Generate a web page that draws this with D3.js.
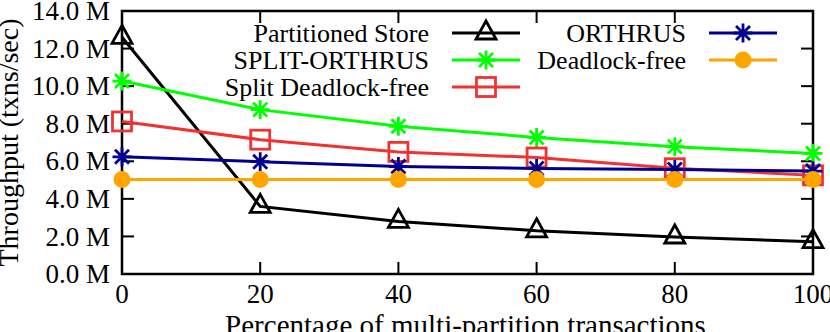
<!DOCTYPE html>
<html>
<head>
<meta charset="utf-8">
<script src="https://cdn.jsdelivr.net/npm/d3@7"></script>
<style>
  html, body { margin: 0; padding: 0; background: #fff; }
  svg text { font-family: "Liberation Serif", "DejaVu Serif", serif; fill: #000; }
</style>
</head>
<body>
<svg id="chart" width="830" height="332"></svg>
<script>
// values (throughput in millions of txns/sec)
const xPct = [0, 20, 40, 60, 80, 100];
const partitionedStore = [12.6, 3.6, 2.8, 2.3, 1.97, 1.72];
const splitOrthrus = [10.27, 8.75, 7.86, 7.27, 6.78, 6.42];
const splitDeadlockFree = [8.12, 7.15, 6.5, 6.2, 5.63, 5.25];
const orthrus = [6.24, 5.98, 5.72, 5.62, 5.56, 5.48];
const deadlockFree = [5.03, 5.03, 5.03, 5.03, 5.03, 5.03];

const yTicks = [0, 2, 4, 6, 8, 10, 12, 14];
const xTicks = [0, 20, 40, 60, 80, 100];

const seriesNames = ['Partitioned Store', 'SPLIT-ORTHRUS', 'Split Deadlock-free', 'ORTHRUS', 'Deadlock-free'];
const seriesColors = ['#000000', '#00ff00', '#f03232', '#000090', '#ffa500'];
const seriesMarkers = ['triangle', 'star', 'square', 'star', 'circle'];
const seriesValues = [partitionedStore, splitOrthrus, splitDeadlockFree, orthrus, deadlockFree];

const svg = d3.select('#chart');
const W = 830, H = 332;
const margin = { left: 122, right: 17, top: 11, bottom: 58 };
const iw = W - margin.left - margin.right;
const ih = H - margin.top - margin.bottom;

const x = d3.scaleLinear().domain([0, 100]).range([0, iw]);
const y = d3.scaleLinear().domain([0, 14]).range([ih, 0]);

const g = svg.append('g').attr('transform', `translate(${margin.left},${margin.top})`);

// ticks (inward, mirrored on all four sides)
const tickLen = 12;
const ticks = g.append('g').attr('stroke', '#000').attr('stroke-width', 2);
yTicks.forEach(v => {
  ticks.append('line').attr('x1', 0).attr('x2', tickLen).attr('y1', y(v)).attr('y2', y(v));
  ticks.append('line').attr('x1', iw).attr('x2', iw - tickLen).attr('y1', y(v)).attr('y2', y(v));
});
xTicks.forEach(v => {
  ticks.append('line').attr('x1', x(v)).attr('x2', x(v)).attr('y1', ih).attr('y2', ih - tickLen);
  ticks.append('line').attr('x1', x(v)).attr('x2', x(v)).attr('y1', 0).attr('y2', tickLen);
});

// frame
g.append('rect')
  .attr('x', 0).attr('y', 0).attr('width', iw).attr('height', ih)
  .attr('fill', 'none').attr('stroke', '#000').attr('stroke-width', 2.5);

// tick labels
g.selectAll('.ylab').data(yTicks).enter().append('text')
  .attr('x', -12).attr('y', d => y(d)).attr('dy', '0.34em')
  .attr('text-anchor', 'end').style('font-size', '27px')
  .text(d => d.toFixed(1) + ' M');

g.selectAll('.xlab').data(xTicks).enter().append('text')
  .attr('x', d => x(d)).attr('y', ih + 29)
  .attr('text-anchor', 'middle').style('font-size', '27px')
  .text(d => d);

// axis titles
svg.append('text')
  .attr('transform', `translate(18,${margin.top + ih / 2}) rotate(-90)`)
  .attr('text-anchor', 'middle').style('font-size', '28px')
  .text('Throughput (txns/sec)');

svg.append('text')
  .attr('x', margin.left + iw / 2 - 2).attr('y', 335)
  .attr('text-anchor', 'middle').style('font-size', '29px')
  .text('Percentage of multi-partition transactions');

function drawMarker(sel, type, color) {
  if (type === 'triangle') {
    sel.append('path').attr('d', 'M0,-12L10,6L-10,6Z')
      .attr('fill', 'none').attr('stroke', color).attr('stroke-width', 2.8);
  } else if (type === 'square') {
    sel.append('rect').attr('x', -9.5).attr('y', -9.5).attr('width', 19).attr('height', 19)
      .attr('fill', 'none').attr('stroke', color).attr('stroke-width', 2.8);
  } else if (type === 'star') {
    sel.append('path').attr('d', 'M-9.5,0H9.5M0,-9.5V9.5M-7,-7L7,7M-7,7L7,-7')
      .attr('fill', 'none').attr('stroke', color).attr('stroke-width', 2.8);
  } else if (type === 'circle') {
    sel.append('circle').attr('r', 8.5).attr('fill', color);
  }
}

const line = d3.line().x((d, i) => x(xPct[i])).y(d => y(d));

seriesValues.forEach((vals, si) => {
  const color = seriesColors[si];
  const sg = g.append('g');
  sg.append('path').datum(vals).attr('d', line)
    .attr('fill', 'none').attr('stroke', color).attr('stroke-width', 3);
  vals.forEach((v, i) => {
    const m = sg.append('g').attr('transform', `translate(${x(xPct[i])},${y(v)})`);
    drawMarker(m, seriesMarkers[si], color);
  });
});

// legend, two columns
const legendRows = [33, 60, 87];
const legendCols = [{ textX: 429, x1: 452, x2: 520 }, { textX: 686, x1: 709, x2: 777 }];
seriesNames.forEach((name, si) => {
  const col = legendCols[si < 3 ? 0 : 1];
  const ry = legendRows[si < 3 ? si : si - 3];
  const color = seriesColors[si];
  svg.append('text').attr('x', col.textX).attr('y', ry).attr('dy', '0.34em')
    .attr('text-anchor', 'end').style('font-size', '26px').text(name);
  svg.append('line').attr('x1', col.x1).attr('x2', col.x2).attr('y1', ry).attr('y2', ry)
    .attr('stroke', color).attr('stroke-width', 3);
  const m = svg.append('g').attr('transform', `translate(${(col.x1 + col.x2) / 2},${ry})`);
  drawMarker(m, seriesMarkers[si], color);
});
</script>
</body>
</html>
